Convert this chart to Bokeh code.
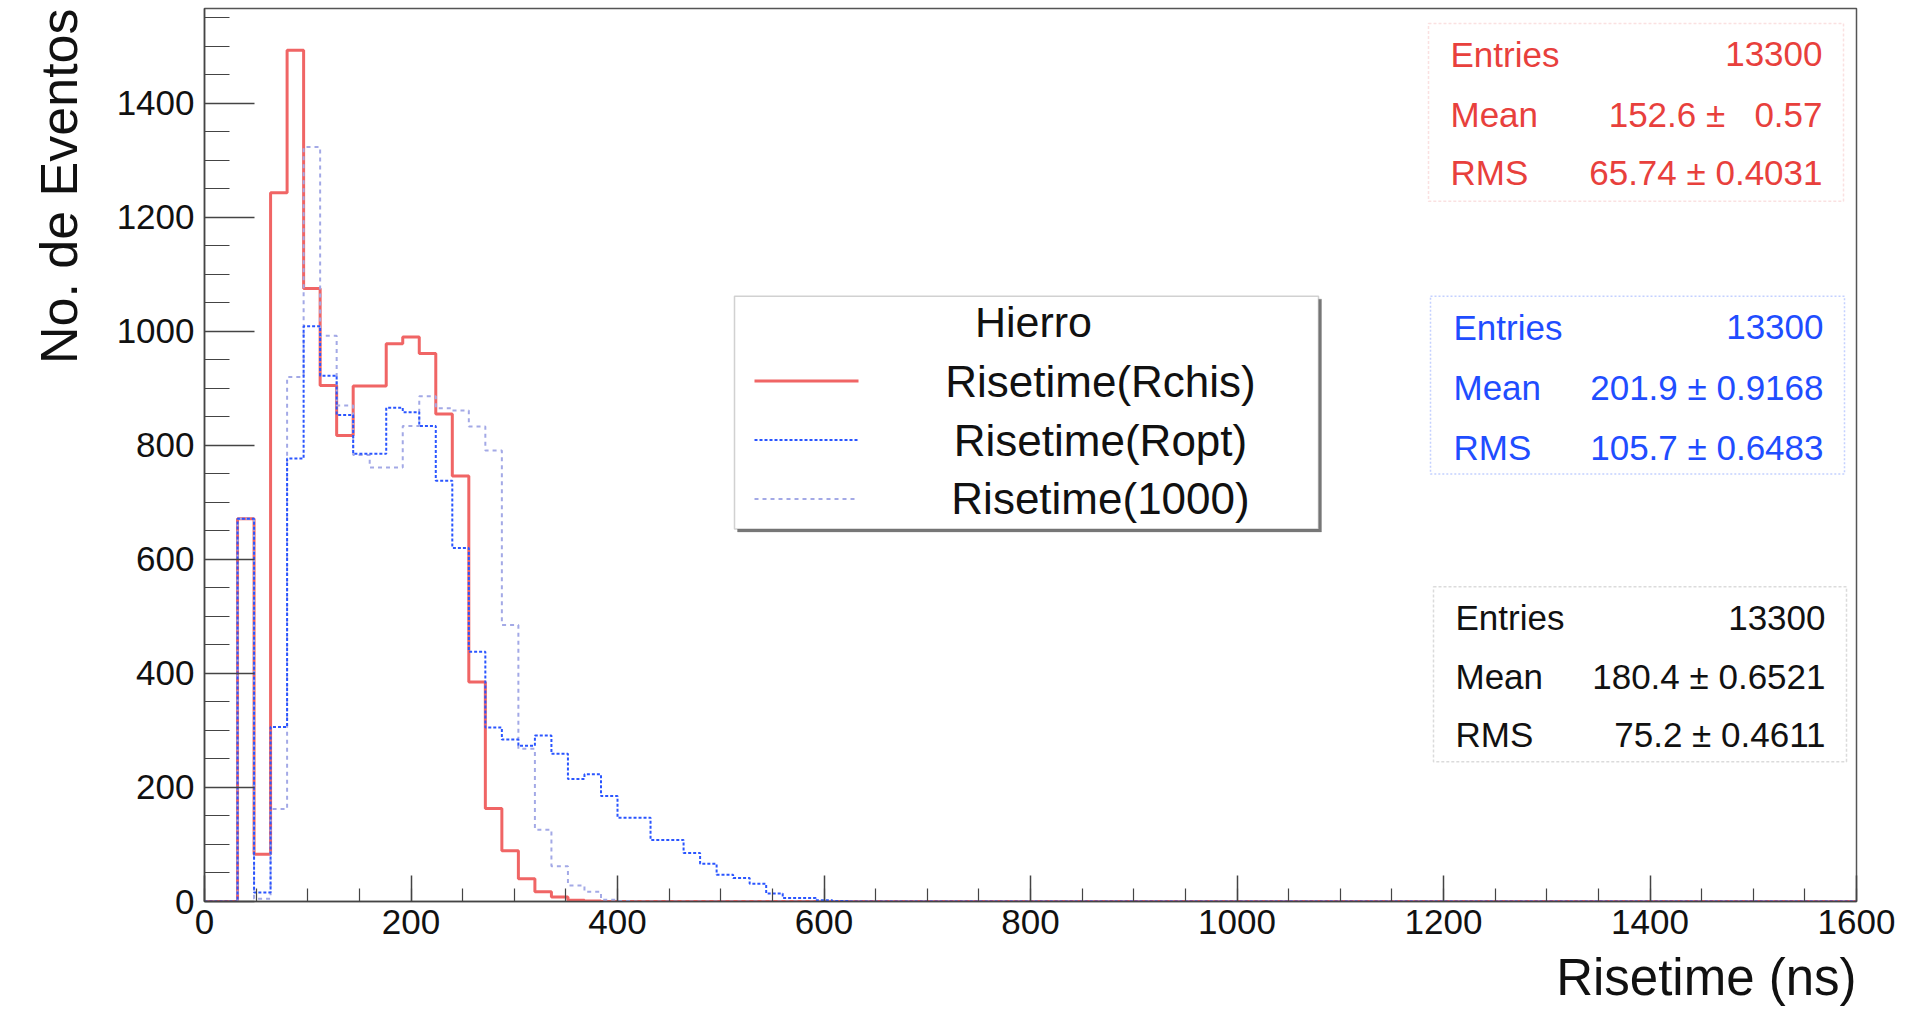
import numpy as np
from bokeh.plotting import figure
from bokeh.models import Range1d, SingleIntervalTicker, Label, BoxAnnotation, Title
from bokeh.embed import file_html
from bokeh.resources import INLINE

# ---------------- data ----------------
bin_width = 16
x_min, x_max = 0, 1600
# counts per 16 ns bin, starting at bin 0 (0-16 ns); remaining bins are empty
rchis_counts = [0, 0, 671, 83, 1243, 1493, 1075, 905, 817, 904, 904, 978, 990, 961,
                855, 746, 385, 163, 89, 40, 17, 8, 2, 1]
ropt_counts = [0, 0, 671, 16, 306, 777, 1009, 922, 853, 785, 785, 866, 858, 834,
               738, 620, 438, 305, 284, 273, 291, 259, 215, 223, 185, 147, 147,
               108, 108, 85, 66, 47, 41, 31, 14, 6, 6, 2, 1]
r1000_counts = [0, 0, 671, 5, 162, 920, 1323, 992, 870, 783, 761, 761, 834, 886,
                865, 861, 833, 791, 485, 268, 126, 62, 28, 17, 3, 1]

series_names = ["Risetime(Rchis)", "Risetime(Ropt)", "Risetime(1000)"]
legend_header = "Hierro"
stat_labels = ["Entries", "Mean", "RMS"]
stats_rchis = ["13300", "152.6 \u00b1\u00a0\u00a0\u00a00.57", "65.74 \u00b1 0.4031"]
stats_ropt = ["13300", "201.9 \u00b1 0.9168", "105.7 \u00b1 0.6483"]
stats_1000 = ["13300", "180.4 \u00b1 0.6521", "75.2 \u00b1 0.4611"]
x_title = "Risetime (ns)"
y_title = "No. de Eventos"

# ---------------- layout ----------------
W, H = 1917, 1015
FX0, FX1, FY0, FY1 = 204, 1856, 8, 902
Y_MAX = 1566
FONT = "Liberation Sans"

RED = "#f06565"
BLUE = "#2a55ff"
LAV = "#a3a9e6"


def dx(px):
    return (px - FX0) / (FX1 - FX0) * (x_max - x_min) + x_min


def dy(py):
    return (FY1 - py) / (FY1 - FY0) * Y_MAX


p = figure(width=W, height=H, x_range=Range1d(x_min, x_max), y_range=Range1d(0, Y_MAX),
           output_backend="svg", toolbar_location=None,
           min_border_left=FX0, min_border_right=W - FX1,
           min_border_top=FY0, min_border_bottom=H - FY1)
p.background_fill_color = "white"
p.border_fill_color = "white"
p.outline_line_color = "#555555"
p.outline_line_width = 1.5
p.xgrid.visible = False
p.ygrid.visible = False

edges = np.arange(x_min, x_max + bin_width, bin_width)
nbins = len(edges) - 1


def outline(counts):
    v = np.zeros(nbins)
    v[:len(counts)] = counts
    xs = np.concatenate([[edges[0]], np.repeat(edges, 2)[1:-1], [edges[-1]]])
    ys = np.concatenate([[0], np.repeat(v, 2), [0]])
    return xs, ys


xs, ys = outline(rchis_counts)
p.line(xs, ys, line_color=RED, line_width=3)
xs, ys = outline(r1000_counts)
p.line(xs, ys, line_color=LAV, line_width=2, line_dash="4 4")
xs, ys = outline(ropt_counts)
p.line(xs, ys, line_color=BLUE, line_width=2, line_dash="3 2")

# axes
for ax, interval, tin, mtin in ((p.xaxis, 200, 26, 13), (p.yaxis, 200, 50, 25)):
    ax.ticker = SingleIntervalTicker(interval=interval, num_minor_ticks=4)
    ax.major_tick_in = tin
    ax.major_tick_out = 0
    ax.minor_tick_in = mtin
    ax.minor_tick_out = 0
    ax.axis_line_color = "#444444"
    ax.axis_line_width = 1.5
    ax.major_tick_line_color = "#444444"
    ax.minor_tick_line_color = "#444444"
    ax.major_tick_line_width = 1.5
    ax.minor_tick_line_width = 1.2
    ax.major_label_text_font = FONT
    ax.major_label_text_font_size = "35px"
    ax.major_label_text_color = "#111111"
p.xaxis.major_label_standoff = 8
p.yaxis.major_label_standoff = 10

# axis titles as side titles, aligned to the far end of each axis
p.add_layout(Title(text=x_title, align="right", text_font=FONT, text_font_size="51px",
                   text_font_style="normal", text_color="#111111", standoff=20,
                   offset=0), "below")
p.add_layout(Title(text=y_title, align="right", text_font=FONT, text_font_size="52px",
                   text_font_style="normal", text_color="#111111", standoff=52,
                   offset=0), "left")

# legend box
LX0, LX1, LY0, LY1 = 734, 1318, 296, 529
p.add_layout(BoxAnnotation(left=dx(LX0 + 3), right=dx(LX1 + 3), top=dy(LY0 + 3),
                           bottom=dy(LY1 + 3), fill_color="#777777", fill_alpha=1,
                           line_color="#777777", line_width=1, level="annotation"))
p.add_layout(BoxAnnotation(left=dx(LX0), right=dx(LX1), top=dy(LY0), bottom=dy(LY1),
                           fill_color="white", fill_alpha=1, line_color="#666666",
                           line_width=1.5, level="annotation"))
p.add_layout(Label(x=dx(1033), y=dy(322), text=legend_header, text_align="center",
                   text_baseline="middle", text_font=FONT, text_font_size="43px",
                   text_color="#111111"))
legend_styles = [(RED, 3, "solid"), (BLUE, 2, "3 2"), (LAV, 2, "4 4")]
legend_rows = [381, 440, 499]
for name, (col, lw, dash), ry in zip(series_names, legend_styles, legend_rows):
    p.line([dx(754), dx(858)], [dy(ry), dy(ry)], line_color=col, line_width=lw,
           line_dash=dash, level="overlay")
    p.add_layout(Label(x=dx(1100), y=dy(ry), text=name, text_align="center",
                       text_baseline="middle", text_font=FONT, text_font_size="44px",
                       text_color="#111111"))

# statistics boxes
stat_boxes = [
    (stats_rchis, "#e8403c", "#f09a9a", "3 2", (1428, 1843, 23, 201), (1450, 1822), (54, 114, 172)),
    (stats_ropt, "#1f4dff", "#3a66ff", "2 2", (1430, 1844, 296, 474), (1453, 1823), (327, 387, 447)),
    (stats_1000, "#111111", "#888888", "3 2", (1433, 1846, 587, 762), (1455, 1825), (618, 677, 735)),
]
for vals, tcol, bcol, bdash, (bx0, bx1, by0, by1), (tl, tr), rows in stat_boxes:
    p.add_layout(BoxAnnotation(left=dx(bx0), right=dx(bx1), top=dy(by0), bottom=dy(by1),
                               fill_color="white", fill_alpha=1, line_color=bcol,
                               line_width=1.5, line_dash=bdash, level="annotation"))
    for lab, val, ry in zip(stat_labels, vals, rows):
        p.add_layout(Label(x=dx(tl), y=dy(ry), text=lab, text_align="left",
                           text_baseline="middle", text_font=FONT,
                           text_font_size="35px", text_color=tcol))
        p.add_layout(Label(x=dx(tr), y=dy(ry), text=val, text_align="right",
                           text_baseline="middle", text_font=FONT,
                           text_font_size="35px", text_color=tcol))

open("out.html", "w").write(file_html(p, INLINE))
